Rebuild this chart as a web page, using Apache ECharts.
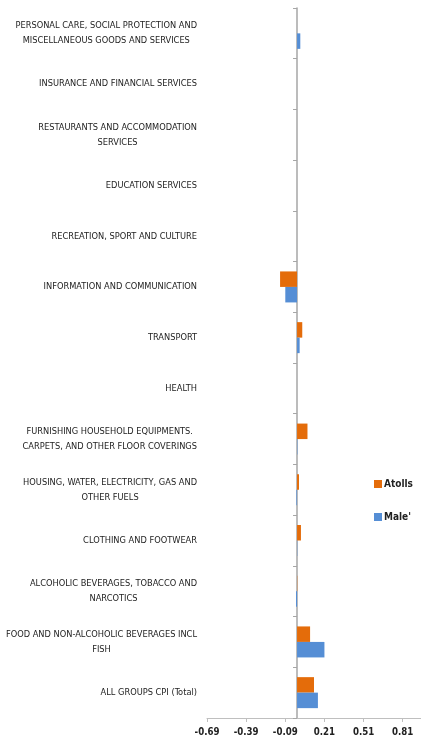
<!DOCTYPE html>
<html><head><meta charset="utf-8">
<script src="https://cdn.jsdelivr.net/npm/echarts@6/dist/echarts.min.js"></script>
<style>html,body{margin:0;padding:0;background:#fff}#c{width:421px;height:740px}</style>
</head><body><div id="c"></div>
<script>
const categories = [
  "ALL GROUPS CPI (Total)",
  "FOOD AND NON-ALCOHOLIC BEVERAGES INCL\nFISH",
  "ALCOHOLIC BEVERAGES, TOBACCO AND\nNARCOTICS",
  "CLOTHING AND FOOTWEAR",
  "HOUSING, WATER, ELECTRICITY, GAS AND\nOTHER FUELS",
  "FURNISHING HOUSEHOLD EQUIPMENTS.\nCARPETS, AND OTHER FLOOR COVERINGS",
  "HEALTH",
  "TRANSPORT",
  "INFORMATION AND COMMUNICATION",
  "RECREATION, SPORT AND CULTURE",
  "EDUCATION SERVICES",
  "RESTAURANTS AND ACCOMMODATION\nSERVICES",
  "INSURANCE AND FINANCIAL SERVICES",
  "PERSONAL CARE, SOCIAL PROTECTION AND\nMISCELLANEOUS GOODS AND SERVICES"
];
const atolls = [0.13, 0.10, 0.002, 0.03, 0.015, 0.08, 0, 0.04, -0.13, 0, 0, 0, 0, 0];
const male   = [0.16, 0.21, -0.008, 0.002, -0.005, 0.003, 0, 0.02, -0.09, 0, 0, 0, 0, 0.025];
const xTicks = ["-0.69", "-0.39", "-0.09", "0.21", "0.51", "0.81"];

const FONT = '"Liberation Sans Narrow", "Arial Narrow", "DejaVu Sans Condensed", sans-serif';
const FS = 9.2;
const LH = 15;
const chart = echarts.init(document.getElementById('c'), null, {renderer: 'canvas'});
chart.setOption({
  animation: false,
  backgroundColor: '#fff',
  grid: {left: 207, right: 0, top: 8, bottom: 22, containLabel: false, outerBoundsMode: 'none'},
  legend: {
    orient: 'vertical', left: 369, top: 474, itemWidth: 8, itemHeight: 8, itemGap: 23,
    data: ['Atolls', "Male'"],
    icon: 'rect',
    textStyle: {fontFamily: FONT, fontSize: 10, fontWeight: 'bold', color: '#222', padding: [0,0,0,-3]}
  },
  xAxis: {
    type: 'value', min: -0.69, max: 0.95, interval: 0.3,
    splitLine: {show: false},
    axisLine: {show: true, lineStyle: {color: '#BFBFBF', width: 1}},
    axisTick: {show: true, length: 4, lineStyle: {color: '#BFBFBF'}},
    axisLabel: {
      showMaxLabel: false, margin: 9,
      fontFamily: FONT, fontSize: 9.6, fontWeight: 'bold', color: '#222',
      formatter: v => { const s = v.toFixed(2); return xTicks.indexOf(s) >= 0 ? s : ''; }
    }
  },
  yAxis: [
    {
      type: 'category', data: categories, position: 'left',
      axisLine: {show: false, onZero: false}, axisTick: {show: false},
      axisLabel: {
        margin: 10, align: 'right', fontFamily: FONT, fontSize: FS, color: '#222', lineHeight: LH,
        formatter: v => v.split('\n').map(l => '{c|' + l + '}').join('\n'),
        rich: {c: {align: 'center', fontFamily: FONT, fontSize: FS, color: '#222', lineHeight: LH}}
      }
    },
    {
      type: 'category', data: categories, position: 'left',
      axisLine: {show: true, onZero: true, lineStyle: {color: '#A6A6A6', width: 1.5}},
      axisTick: {show: true, length: 4, lineStyle: {color: '#A6A6A6'}},
      axisLabel: {show: false}
    }
  ],
  series: [
    {name: 'Atolls', type: 'bar', data: atolls, yAxisIndex: 0, barWidth: 15.5, barGap: '0%',
     itemStyle: {color: '#E46C0A'}},
    {name: "Male'", type: 'bar', data: male, yAxisIndex: 0, barWidth: 15.5, barGap: '0%',
     itemStyle: {color: '#558ED5'}}
  ]
});
</script></body></html>
